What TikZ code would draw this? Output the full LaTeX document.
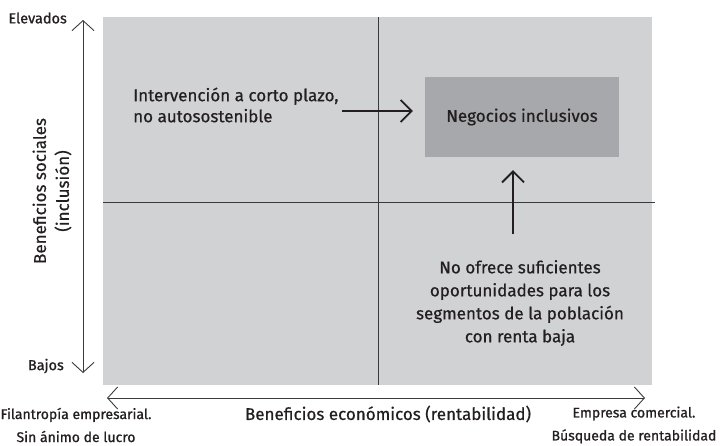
\documentclass[tikz,border=0pt]{standalone}
\usepackage{fontspec}
\setmainfont{Fira Sans}[FakeBold=0.6]
\newfontfamily\smallfam{Fira Sans}[FakeBold=1.0]
\usetikzlibrary{arrows.meta}
\definecolor{bggrey}{HTML}{D1D2D4}
\definecolor{boxgrey}{HTML}{A7A8AB}
\definecolor{ink}{HTML}{231F20}
\definecolor{axisline}{HTML}{3A3A3C}
\tikzset{
  lbl/.style={text=ink, inner sep=0pt, font=\fontsize{17}{23}\selectfont, align=center},
  small/.style={text=ink, inner sep=0pt, font=\smallfam\fontsize{14}{23}\selectfont, align=center},
  axisarrow/.style={draw=axisline, line width=0.9pt, {Straight Barb[length=10pt,width=22pt,line width=0.9pt]}-{Straight Barb[length=10pt,width=22pt,line width=0.9pt]}},
  pointer/.style={draw=ink, line width=1.8pt, -{Straight Barb[length=11pt,width=22pt,line width=1.8pt]}},
  quad/.style={draw=axisline, line width=1pt}
}
\begin{document}
\begin{tikzpicture}[x=1pt,y=-1pt]
\useasboundingbox (0,0) rectangle (720,445);
% background panel
\node[fill=bggrey, minimum width=549pt, minimum height=368pt, inner sep=0pt, anchor=north west] (bg) at (103,17) {};
% quadrant lines
\coordinate (vtop) at (378,17);
\coordinate (vbot) at (378,385);
\coordinate (hleft) at (103,202);
\coordinate (hright) at (655,202);
\draw[quad] (vtop) -- (vbot);
\draw[quad] (hleft) -- (hright);
% box
\node[fill=boxgrey, minimum width=194pt, minimum height=80pt, inner sep=0pt, lbl] (neg) at (522,117) {Negocios inclusivos};
% intervention text
\node[lbl, align=left, anchor=west, font=\fontsize{17}{21}\selectfont] (interv) at (133,105) {Intervención a corto plazo,\\no autosostenible};
\coordinate (istart) at (342,111);
\draw[pointer, shorten >=12pt] (istart) -- (neg.west |- istart);
% no ofrece text
\node[lbl] (noof) at (520,303) {No ofrece suficientes\\oportunidades para los\\segmentos de la población\\con renta baja};
\coordinate (ustart) at (513,234);
\draw[pointer, shorten >=13pt] (ustart) -- (ustart |- neg.south);
% y axis
\coordinate (ytop) at (83,20);
\coordinate (ybot) at (83,373);
\draw[axisarrow] (ybot) -- (ytop);
\node[small, font=\smallfam\fontsize{14.5}{23}\selectfont, anchor=east] (elev) at (67,18) {Elevados};
\node[small, font=\smallfam\fontsize{14.5}{23}\selectfont, anchor=east] (bajos) at (64,366) {Bajos};
\node[lbl, rotate=90] (ylab) at (52,191) {Beneficios sociales\\(inclusión)};
% x axis
\coordinate (xleft) at (107,398);
\coordinate (xright) at (645,398);
\draw[axisarrow] (xleft) -- (xright);
\node[lbl] (xlab) at (388,414) {Beneficios económicos (rentabilidad)};
\node[small] (fil) at (76,425) {Filantropía empresarial.\\Sin ánimo de lucro};
\node[small] (emp) at (634,425) {Empresa comercial.\\Búsqueda de rentabilidad};
\end{tikzpicture}
\end{document}
